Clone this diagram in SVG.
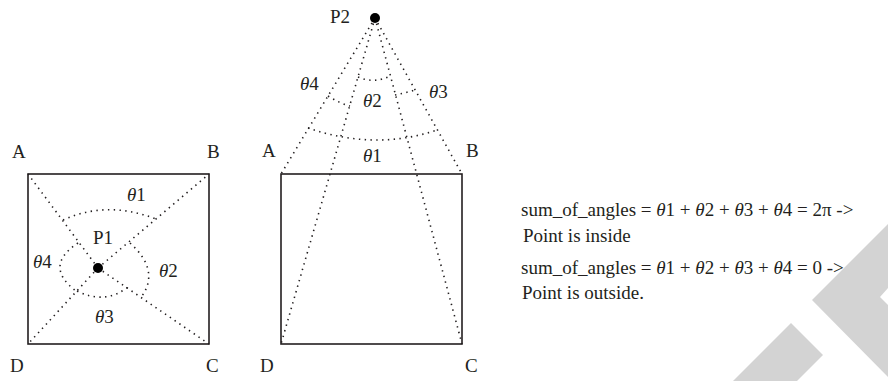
<svg xmlns="http://www.w3.org/2000/svg" width="888" height="381" viewBox="0 0 888 381">
<style>
text{font-family:"Liberation Serif","Times New Roman",serif;font-size:19px;fill:#231f20}
.it{font-style:italic}
.box{fill:none;stroke:#231f20;stroke-width:1.6}
.dot{fill:none;stroke:#231f20;stroke-width:1.6;stroke-dasharray:1.4 4.4}
.pt{fill:#000}
.wm{fill:#d3d3d3}
</style>
<rect width="888" height="381" fill="#fff"/>
<g id="watermark">
<polygon class="wm" points="888,224 812,300 888,377 888,305 880,297 888,288"/>
<polygon class="wm" points="733,381 791,323 823,355 797,381"/>
</g>
<g id="connectors">
<path class="dot" d="M98,268L28,174M98,268L209,174M98,268L209,344M98,268L28,344"/>
<path class="dot" d="M63,220Q107,200 156,219M130,243Q160,270 142,296M77,291Q105,305 128,287M78,243Q43,266 76,291"/>
<path class="dot" d="M375,18L281,174M375,18L462,174M375,18L281,344M375,18L462,344"/>
<path class="dot" d="M308,128Q375,151 437,130M328,96Q339,103 350,106M358,77Q374,84 390,76M395,95Q405,93 415,90"/>
</g>
<g id="square1">
<rect class="box" x="28" y="174" width="181" height="170"/>
<text x="12" y="158">A</text>
<text x="207" y="158">B</text>
<text x="10" y="372">D</text>
<text x="206" y="372">C</text>
</g>
<g id="P1">
<circle class="pt" cx="98" cy="268" r="5"/>
<text x="93" y="244">P1</text>
</g>
<g id="angles1">
<text x="127" y="201"><tspan class="it">θ</tspan>1</text>
<text x="159" y="277"><tspan class="it">θ</tspan>2</text>
<text x="95" y="323"><tspan class="it">θ</tspan>3</text>
<text x="33" y="268"><tspan class="it">θ</tspan>4</text>
</g>
<g id="square2">
<rect class="box" x="281" y="174" width="181" height="170"/>
<text x="262" y="157">A</text>
<text x="466" y="157">B</text>
<text x="260" y="372">D</text>
<text x="465" y="372">C</text>
</g>
<g id="P2">
<circle class="pt" cx="375" cy="18" r="5"/>
<text x="330" y="23">P2</text>
</g>
<g id="angles2">
<text x="363" y="162"><tspan class="it">θ</tspan>1</text>
<text x="363" y="107"><tspan class="it">θ</tspan>2</text>
<text x="429" y="98"><tspan class="it">θ</tspan>3</text>
<text x="300" y="90"><tspan class="it">θ</tspan>4</text>
</g>
<g id="explanation">
<text x="521" y="216">sum_of_angles = <tspan class="it">θ</tspan>1 + <tspan class="it">θ</tspan>2 + <tspan class="it">θ</tspan>3 + <tspan class="it">θ</tspan>4 = 2π -&gt;</text>
<text x="523" y="242">Point is inside</text>
<text x="521" y="274">sum_of_angles = <tspan class="it">θ</tspan>1 + <tspan class="it">θ</tspan>2 + <tspan class="it">θ</tspan>3 + <tspan class="it">θ</tspan>4 = 0 -&gt;</text>
<text x="522" y="299">Point is outside.</text>
</g>
</svg>
